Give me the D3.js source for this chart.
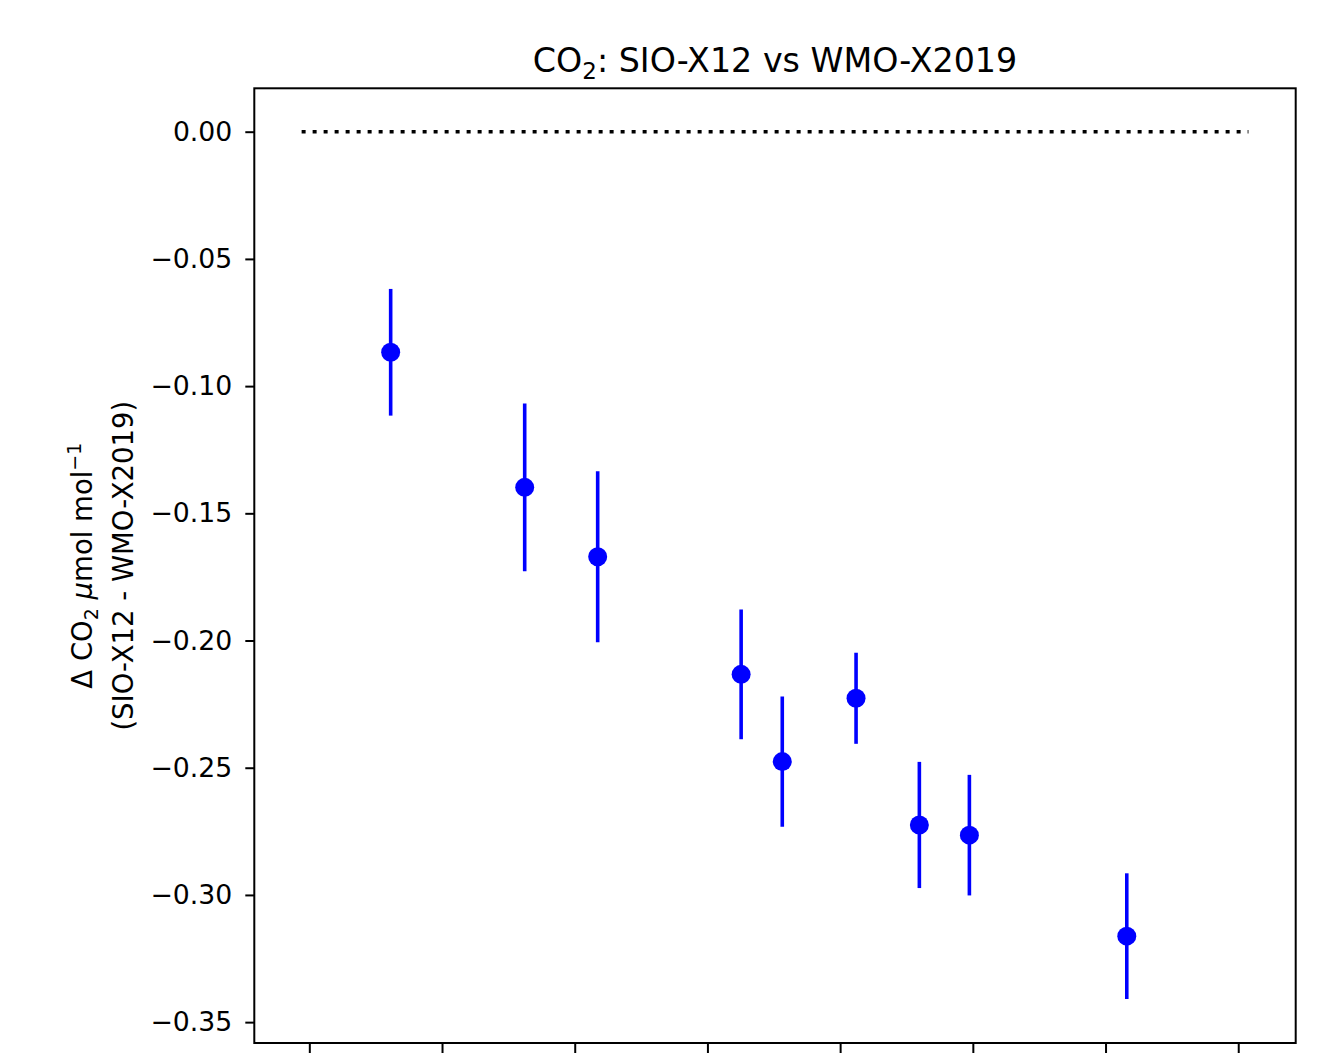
<!DOCTYPE html>
<html>
<head>
<meta charset="utf-8">
<script src="https://cdn.jsdelivr.net/npm/d3@7"></script>
<style>
  body { margin: 0; background: #fff; }
  text { font-family: "DejaVu Sans", sans-serif; fill: #000; }
</style>
</head>
<body>
<div id="chart"></div>
<script>
// Data (x in tick units, tick labels are cut off)
var pointX    = [0.613, 1.623, 2.173, 3.254, 3.564, 4.120, 4.597, 4.974, 6.160];
var deltaCO2  = [-0.0867, -0.1398, -0.1671, -0.2133, -0.2476, -0.2227, -0.2725, -0.2765, -0.3162];
var deltaErr  = [0.0249, 0.0330, 0.0336, 0.0255, 0.0256, 0.0179, 0.0248, 0.0237, 0.0247];
var zeroLineX = [-0.058, 7.077];
var xTicks    = [0, 1, 2, 3, 4, 5, 6, 7];
var yTicks    = [0, -0.05, -0.10, -0.15, -0.20, -0.25, -0.30, -0.35];

// Width and height
var chartWidth  = 1335;
var chartHeight = 1062;
var plotLeft = 254.3, plotRight = 1295.7, plotTop = 88.3, plotBottom = 1043;

var xScale = d3.scaleLinear()
    .domain([-0.4146, 7.433])
    .range([plotLeft, plotRight]);
var yScale = d3.scaleLinear()
    .domain([0.01706, -0.3582])
    .range([plotTop, plotBottom]);

var svg = d3.select("#chart")
    .append("svg")
    .attr("width", chartWidth)
    .attr("height", chartHeight);

// zero reference line
svg.append("line")
    .attr("x1", xScale(zeroLineX[0]))
    .attr("x2", xScale(zeroLineX[1]))
    .attr("y1", yScale(0))
    .attr("y2", yScale(0))
    .attr("stroke", "#000")
    .attr("stroke-width", 3.5)
    .attr("stroke-dasharray", "4,7");

var points = pointX.map(function(x, i){
    return {x: x, y: deltaCO2[i], e: deltaErr[i]};
});

// error bars
svg.selectAll(".err")
    .data(points)
    .enter()
    .append("line")
    .attr("class", "err")
    .attr("x1", function(d){ return xScale(d.x); })
    .attr("x2", function(d){ return xScale(d.x); })
    .attr("y1", function(d){ return yScale(d.y + d.e); })
    .attr("y2", function(d){ return yScale(d.y - d.e); })
    .attr("stroke", "#0000ff")
    .attr("stroke-width", 3.6);

svg.selectAll("circle")
    .data(points)
    .enter()
    .append("circle")
    .attr("cx", function(d){ return xScale(d.x); })
    .attr("cy", function(d){ return yScale(d.y); })
    .attr("r", 9.5)
    .attr("fill", "#0000ff");

// Axes
var yAxis = d3.axisLeft(yScale)
    .tickValues(yTicks)
    .tickFormat(d3.format(".2f"))
    .tickSizeInner(9)
    .tickSizeOuter(0)
    .tickPadding(13);
var gy = svg.append("g")
    .attr("transform", "translate(" + plotLeft + ",0)")
    .call(yAxis);
gy.select(".domain").remove();
gy.selectAll(".tick line").attr("stroke", "#000").attr("stroke-width", 2);
gy.selectAll(".tick text")
    .style("font-family", "DejaVu Sans")
    .style("font-size", "26.7px")
    .attr("fill", "#000");

var xAxis = d3.axisBottom(xScale)
    .tickValues(xTicks)
    .tickFormat(function(){ return ""; })
    .tickSizeInner(10)
    .tickSizeOuter(0);
var gx = svg.append("g")
    .attr("transform", "translate(0," + plotBottom + ")")
    .call(xAxis);
gx.select(".domain").remove();
gx.selectAll(".tick line").attr("stroke", "#000").attr("stroke-width", 2);

// frame
svg.append("rect")
    .attr("x", plotLeft)
    .attr("y", plotTop)
    .attr("width", plotRight - plotLeft)
    .attr("height", plotBottom - plotTop)
    .attr("fill", "none")
    .attr("stroke", "#000")
    .attr("stroke-width", 2);

// Title
var title = svg.append("text")
    .attr("x", (plotLeft + plotRight) / 2)
    .attr("y", 72)
    .attr("text-anchor", "middle")
    .style("font-size", "33.3px");
title.append("tspan").text("CO");
title.append("tspan").attr("dy", 7).style("font-size", "23px").text("2");
title.append("tspan").attr("dy", -7).text(": SIO-X12 vs WMO-X2019");

// Y label (two lines)
var midY = (plotTop + plotBottom) / 2;
var yl1 = svg.append("text")
    .attr("transform", "translate(92," + midY + ") rotate(-90)")
    .attr("text-anchor", "middle")
    .style("font-size", "27.5px");
yl1.append("tspan").text("\u0394 CO");
yl1.append("tspan").attr("dy", 6).style("font-size", "19px").text("2");
yl1.append("tspan").attr("dy", -6).text(" ");
yl1.append("tspan").style("font-style", "italic").text("\u03bc");
yl1.append("tspan").text("mol mol");
yl1.append("tspan").attr("dy", -11).style("font-size", "19px").text("\u22121");

svg.append("text")
    .attr("transform", "translate(133," + midY + ") rotate(-90)")
    .attr("text-anchor", "middle")
    .style("font-size", "27.5px")
    .text("(SIO-X12 - WMO-X2019)");
</script>
</body>
</html>
